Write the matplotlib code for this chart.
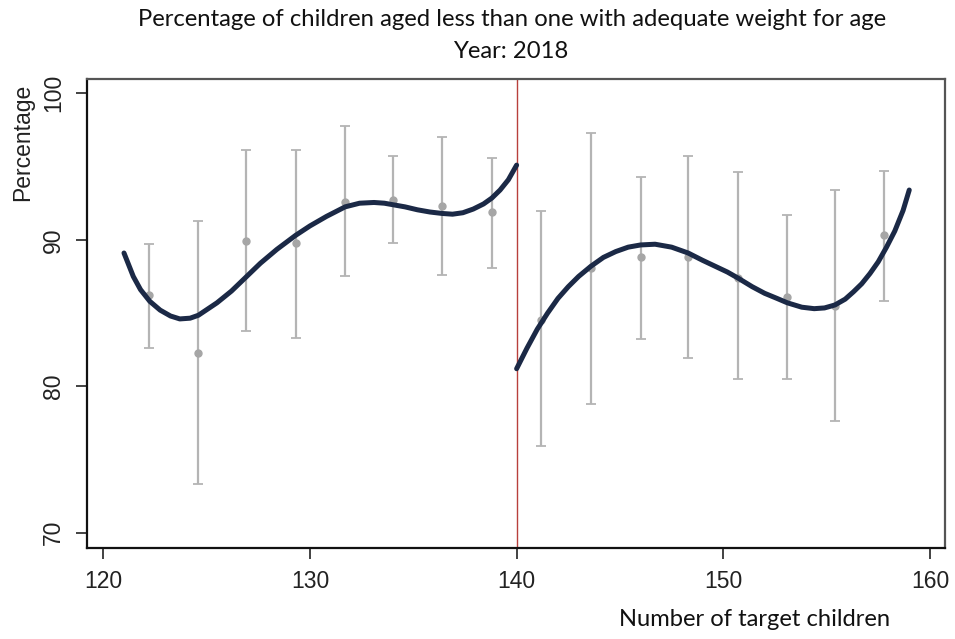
import matplotlib
matplotlib.use("Agg")
import matplotlib.pyplot as plt

# ---- data ----
bin_x = [122.2, 124.6, 126.9, 129.3, 131.7, 134.0, 136.4, 138.8,
         141.2, 143.6, 146.0, 148.3, 150.7, 153.1, 155.4, 157.8]
bin_mean = [86.2, 82.3, 89.9, 89.8, 92.6, 92.7, 92.3, 91.9,
            84.5, 88.1, 88.8, 88.8, 87.4, 86.1, 85.5, 90.3]
ci_low = [82.6, 73.3, 83.8, 83.3, 87.5, 89.8, 87.6, 88.1,
          75.9, 78.8, 83.2, 81.9, 80.5, 80.5, 77.6, 85.8]
ci_high = [89.7, 91.3, 96.1, 96.1, 97.8, 95.7, 97.0, 95.6,
           92.0, 97.3, 94.3, 95.7, 94.6, 91.7, 93.4, 94.7]

left_fit_x = [121.0, 121.45, 121.8, 122.25, 122.75, 123.25, 123.7, 124.2,
              124.6, 125.5, 126.2, 126.9, 127.6, 128.4, 129.3, 130.0, 130.8,
              131.7, 132.4, 133.1, 133.6, 134.0, 134.6, 135.2, 135.8, 136.4,
              136.9, 137.4, 137.9, 138.4, 138.8, 139.2, 139.6, 140.0]
left_fit_y = [89.1, 87.5, 86.6, 85.8, 85.2, 84.8, 84.6, 84.65,
              84.85, 85.7, 86.5, 87.45, 88.4, 89.35, 90.3, 90.95, 91.6,
              92.25, 92.5, 92.55, 92.5, 92.4, 92.25, 92.05, 91.9, 91.8,
              91.75, 91.85, 92.1, 92.45, 92.85, 93.4, 94.1, 95.1]
right_fit_x = [140.0, 140.5, 141.0, 141.5, 142.0, 142.5, 143.0, 143.6, 144.2,
               144.8, 145.4, 146.0, 146.7, 147.5, 148.3, 149.0, 149.6, 150.2,
               150.7, 151.4, 152.0, 152.6, 153.1, 153.8, 154.4, 154.9, 155.4,
               155.9, 156.3, 156.7, 157.1, 157.5, 157.9, 158.3, 158.7, 159.0]
right_fit_y = [81.2, 82.6, 83.9, 85.0, 86.0, 86.8, 87.5, 88.2, 88.8,
               89.2, 89.5, 89.65, 89.7, 89.5, 89.1, 88.6, 88.2, 87.8,
               87.4, 86.8, 86.35, 86.0, 85.7, 85.4, 85.3, 85.35, 85.55,
               85.95, 86.45, 87.0, 87.7, 88.5, 89.5, 90.6, 92.0, 93.4]

x_ticks = [120, 130, 140, 150, 160]
y_ticks = [70, 80, 90, 100]
cutoff = 140

title_line1 = "Percentage of children aged less than one with adequate weight for age"
title_line2 = "Year: 2018"
x_label = "Number of target children"
y_label = "Percentage"

# ---- figure ----
fig = plt.figure(figsize=(9.55, 6.39), dpi=100)
ax = fig.add_axes([87/955, 1 - 548/639, (945-87)/955, (548-79)/639])

yerr = [[m - lo for m, lo in zip(bin_mean, ci_low)],
        [hi - m for m, hi in zip(bin_mean, ci_high)]]
ax.errorbar(bin_x, bin_mean, yerr=yerr, fmt='o', color='#a6a6a6',
            ecolor='#b4b4b4', elinewidth=1.6, capsize=3.8, capthick=1.3,
            markersize=5, zorder=2)

ax.plot(left_fit_x, left_fit_y, color='#1b2946', lw=3.6,
        solid_capstyle='round', solid_joinstyle='round', zorder=3)
ax.plot(right_fit_x, right_fit_y, color='#1b2946', lw=3.6,
        solid_capstyle='round', solid_joinstyle='round', zorder=3)

ax.axvline(cutoff, color='#b8403c', lw=1.0, zorder=1)

ax.set_xlim(119.21, 160.73)
ax.set_ylim(68.96, 100.98)
ax.set_xticks(x_ticks)
ax.set_yticks(y_ticks)
ax.tick_params(axis='both', direction='out', length=8, width=1.2,
               colors='#222222', labelsize=16.5, pad=8)
for lab in ax.get_xticklabels() + ax.get_yticklabels():
    lab.set_fontfamily('Liberation Sans')
    lab.set_color('#222222')
for lab in ax.get_yticklabels():
    lab.set_rotation(90)
    lab.set_va('center')

for side in ['left', 'bottom']:
    ax.spines[side].set_color('#111111')
    ax.spines[side].set_linewidth(1.6)
for side in ['top', 'right']:
    ax.spines[side].set_color('#555555')
    ax.spines[side].set_linewidth(1.6)

fig.text(512/955, 1 - 20/639, title_line1, ha='center', va='center',
         fontsize=17.2, family='Lato', color='#111111')
fig.text(511/955, 1 - 52/639, title_line2, ha='center', va='center',
         fontsize=17.2, family='Lato', color='#111111')
fig.text(890/955, 1 - 620/639, x_label, ha='right', va='center',
         fontsize=17.1, family='Lato', color='#111111')
fig.text(23/955, 1 - 142/639, y_label, ha='center', va='center', rotation=90,
         fontsize=16.5, family='Liberation Sans', color='#222222')

fig.savefig('out.png', dpi=100, facecolor='white')
